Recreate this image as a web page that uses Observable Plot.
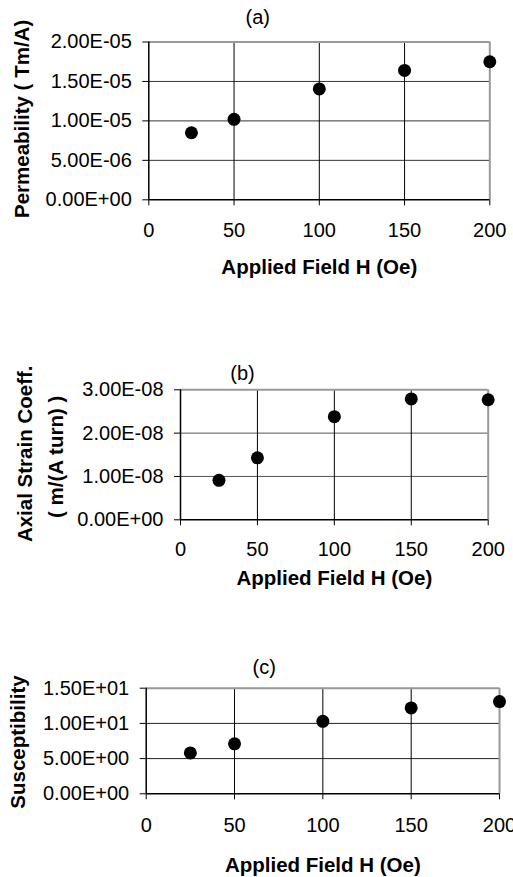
<!DOCTYPE html>
<html>
<head>
<meta charset="utf-8">
<script src="https://cdn.jsdelivr.net/npm/d3@7"></script>
<script src="https://cdn.jsdelivr.net/npm/@observablehq/plot@0.6"></script>
<style>
  html, body { margin: 0; padding: 0; background: #fff; }
  #root { width: 513px; height: 877px; overflow: hidden; position: relative; }
  #root svg { display: block; overflow: visible; }
</style>
</head>
<body>
<div id="root"></div>
<script>
// ---- data ----
const fieldH = [25, 50, 100, 150, 200];
const permeability = [8.5e-6, 1.02e-5, 1.405e-5, 1.64e-5, 1.75e-5];
const strainCoeff = [0.91e-8, 1.43e-8, 2.38e-8, 2.79e-8, 2.77e-8];
const susceptibility = [5.8, 7.1, 10.3, 12.2, 13.1];

const xTicks = [0, 50, 100, 150, 200];
const xLabels = ["0", "50", "100", "150", "200"];
const yTicksA = [0, 5e-6, 1e-5, 1.5e-5, 2e-5];
const yLabelsA = ["0.00E+00", "5.00E-06", "1.00E-05", "1.50E-05", "2.00E-05"];
const yTicksB = [0, 1e-8, 2e-8, 3e-8];
const yLabelsB = ["0.00E+00", "1.00E-08", "2.00E-08", "3.00E-08"];
const yTicksC = [0, 5, 10, 15];
const yLabelsC = ["0.00E+00", "5.00E+00", "1.00E+01", "1.50E+01"];

const xTitle = "Applied Field H (Oe)";

const TICK_FS = 20;

function panel(cfg) {
  const data = fieldH.map((h, i) => ({h, v: cfg.values[i]}));
  const yMax = cfg.yTicks[cfg.yTicks.length - 1];
  const marks = [
    Plot.ruleY(cfg.yTicks.slice(1, -1), {stroke: cfg.gridColor, strokeWidth: 1}),
    Plot.ruleX(xTicks.slice(1, -1), {stroke: "#000", strokeWidth: 1}),
    Plot.ruleY([yMax], {stroke: "#999", strokeWidth: 2}),
    Plot.ruleX([200], {stroke: "#999", strokeWidth: 2}),
    Plot.ruleX([0], {stroke: "#000", strokeWidth: 1.5}),
    Plot.ruleY([0], {stroke: "#000", strokeWidth: 1.5}),
    Plot.axisY({ticks: cfg.yTicks, tickFormat: () => "", tickSize: 6, label: null}),
    Plot.axisX({ticks: xTicks, tickFormat: () => "", tickSize: 6, label: null}),
    Plot.text(cfg.yTicks, {y: d => d, text: (d, i) => cfg.yLabels[i], frameAnchor: "left", dx: -17, textAnchor: "end", lineAnchor: "middle", fontSize: TICK_FS}),
    Plot.text(xTicks, {x: d => d, text: (d, i) => xLabels[i], frameAnchor: "bottom", dy: cfg.xTickDy, textAnchor: "middle", lineAnchor: "middle", fontSize: TICK_FS}),
    Plot.dot(data, {x: "h", y: "v", r: 6.5, fill: "#000", stroke: "none"}),
    Plot.text([xTitle], {text: d => d, frameAnchor: "bottom", dy: cfg.xTitleDy, lineAnchor: "middle", textAnchor: "middle", fontWeight: "bold", fontSize: 20.5}),
    Plot.text([cfg.title], {text: d => d, frameAnchor: "top-left", dx: cfg.titleDx, dy: cfg.titleDy, lineAnchor: "middle", textAnchor: "middle", fontSize: 20})
  ];
  cfg.yTitles.forEach(t => {
    marks.push(Plot.text([t.text], {text: d => d, frameAnchor: "left", dx: t.dx, dy: t.dy || 0, rotate: -90, lineAnchor: "middle", textAnchor: "middle", fontWeight: "bold", fontSize: 20.5}));
  });
  return Plot.plot({
    width: 513,
    height: cfg.height,
    marginTop: cfg.mt,
    marginBottom: cfg.mb,
    marginLeft: cfg.ml,
    marginRight: cfg.mr,
    style: {fontFamily: "'Liberation Sans', Arial, sans-serif", fontSize: "18px", color: "#000", background: "#fff", overflow: "visible"},
    x: {domain: [0, 200]},
    y: {domain: [0, yMax]},
    marks
  });
}

const root = document.getElementById("root");
root.append(panel({
  values: permeability, yTicks: yTicksA, yLabels: yLabelsA, gridColor: "#333",
  height: 290, mt: 41.5, mb: 90.7, ml: 148.3, mr: 23.7,
  xTickDy: 30.5, xTitleDy: 68, title: "(a)", titleDx: 109, titleDy: -24.5,
  yTitles: [{text: "Permeability ( Tm/A)", dx: -126, dy: -2}]
}));
root.append(panel({
  values: strainCoeff, yTicks: yTicksB, yLabels: yLabelsB, gridColor: "#555",
  height: 310, mt: 99.3, mb: 80.7, ml: 180, mr: 25.3,
  xTickDy: 30, xTitleDy: 59, title: "(b)", titleDx: 62, titleDy: -16,
  yTitles: [{text: "Axial Strain Coeff.", dx: -155, dy: -1}, {text: "( m/(A turn) )", dx: -124, dy: 2}]
}));
root.append(panel({
  values: susceptibility, yTicks: yTicksC, yLabels: yLabelsC, gridColor: "#222",
  height: 277, mt: 87.7, mb: 83.7, ml: 145.7, mr: 14,
  xTickDy: 31.5, xTitleDy: 72, title: "(c)", titleDx: 118, titleDy: -21,
  yTitles: [{text: "Susceptibility", dx: -128, dy: 1}]
}));
</script>
</body>
</html>
